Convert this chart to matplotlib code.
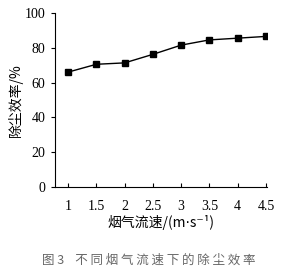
import matplotlib
matplotlib.use("Agg")
import matplotlib.pyplot as plt

#data
speed = [1, 1.5, 2, 2.5, 3, 3.5, 4, 4.5]
efficiency = [66, 70.5, 71.3, 76.2, 81.5, 84.5, 85.5, 86.5]
yticks = [0, 20, 40, 60, 80, 100]

cjk = ['Noto Sans CJK SC', 'DejaVu Sans']
num_font = 'Liberation Serif'

fig = plt.figure(figsize=(2.98, 2.75), dpi=100)
ax = fig.add_axes([0.185, 0.32, 0.711, 0.633])

ax.plot(speed, efficiency, color='black', lw=1.0, marker='s', ms=4.5)

ax.set_xlim(0.77, 4.52)
ax.set_ylim(0, 100)
ax.set_xticks(speed)
ax.set_xticklabels([f"{v:g}" for v in speed], fontfamily=num_font, fontsize=10)
ax.set_yticks(yticks)
ax.set_yticklabels([str(v) for v in yticks], fontfamily=num_font, fontsize=10)

ax.spines['top'].set_visible(False)
ax.spines['right'].set_visible(False)
ax.tick_params(axis='x', direction='in', length=3, pad=9)
ax.tick_params(axis='y', direction='out', length=3, pad=4)

ax.set_ylabel('除尘效率/%', fontfamily=cjk, fontsize=10)
ax.yaxis.set_label_coords(-0.15, 0.5)
ax.set_xlabel('烟气流速/(m\u22c5s\u207b\u00b9)', fontfamily=cjk, fontsize=10, labelpad=2)

fig.text(0.5, 0.04, '图 3    不 同 烟 气 流 速 下 的 除 尘 效 率', fontfamily=cjk,
         fontsize=9, color='#666666', ha='center')

fig.savefig('out.png', dpi=100)
